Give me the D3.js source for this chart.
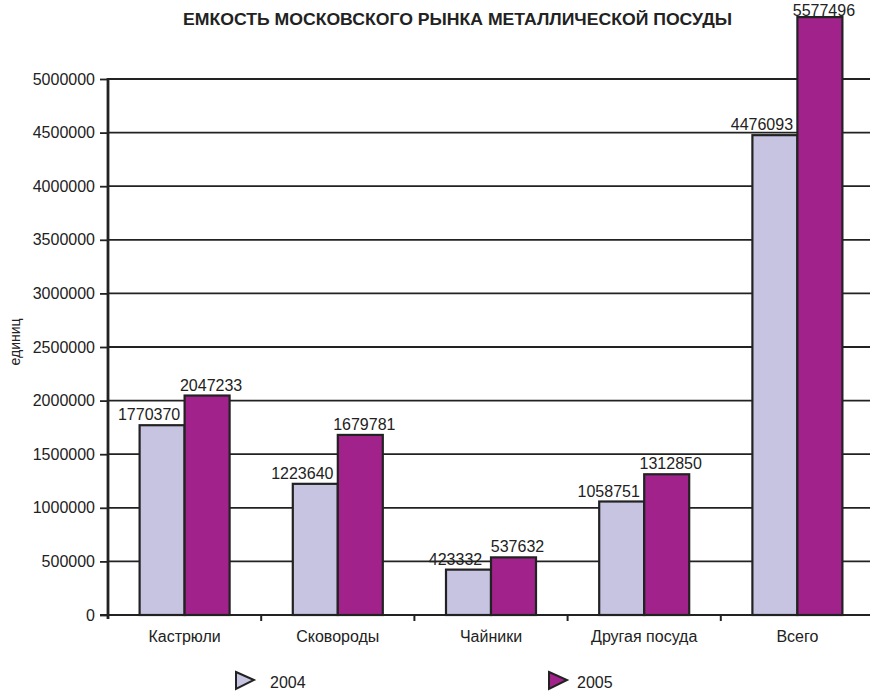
<!DOCTYPE html>
<html>
<head>
<meta charset="utf-8">
<script src="https://cdn.jsdelivr.net/npm/d3@7"></script>
<style>
  html, body { margin: 0; padding: 0; background: #fff; }
  svg { display: block; font-family: "Liberation Sans", Arial, sans-serif; }
</style>
</head>
<body>
<svg id="chart" width="870" height="693"></svg>
<script>
// Market capacity data (units)
const categories = ["Кастрюли", "Сковороды", "Чайники", "Другая посуда", "Всего"];
const years = ["2004", "2005"];
const values2004 = [1770370, 1223640, 423332, 1058751, 4476093];
const values2005 = [2047233, 1679781, 537632, 1312850, 5577496];
const yTicks = [0, 500000, 1000000, 1500000, 2000000, 2500000, 3000000, 3500000, 4000000, 4500000, 5000000];
const titleText = "ЕМКОСТЬ МОСКОВСКОГО РЫНКА МЕТАЛЛИЧЕСКОЙ ПОСУДЫ";
const yAxisTitle = "единиц";

const colors = { "2004": "#c6c4e1", "2005": "#a2228b" };
const ink = "#222";

const svg = d3.select("#chart");
const plotLeft = 108, plotRight = 874, plotTop = 79, plotBottom = 615;

const y = d3.scaleLinear().domain([0, 5000000]).range([plotBottom, plotTop]);
const x = d3.scaleBand().domain(categories).range([plotLeft, plotRight]).padding(0);
const groupW = 90;
const xs = d3.scaleBand().domain(years).range([-groupW / 2, groupW / 2]).padding(0);

const rows = categories.map((c, i) => ({ cat: c, vals: [
  { year: "2004", v: values2004[i] },
  { year: "2005", v: values2005[i] }
]}));

// Title
svg.append("text")
  .attr("x", 183).attr("y", 25)
  .attr("font-size", 17).attr("font-weight", "bold").attr("fill", ink)
  .attr("textLength", 549).attr("lengthAdjust", "spacingAndGlyphs")
  .text(titleText);

// Horizontal gridlines
svg.append("g").selectAll("line").data(yTicks).join("line")
  .attr("x1", plotLeft).attr("x2", 870)
  .attr("y1", d => y(d)).attr("y2", d => y(d))
  .attr("stroke", ink).attr("stroke-width", 1.8);

// Y axis (ticks to the left, labels right-aligned)
const yAxis = d3.axisLeft(y).tickValues(yTicks).tickSize(8).tickPadding(5).tickFormat(d3.format("d"));
const gy = svg.append("g").attr("transform", `translate(${plotLeft},0)`).call(yAxis);
gy.select(".domain").remove();
gy.selectAll(".tick line").attr("stroke", ink).attr("stroke-width", 1.8);
gy.selectAll(".tick text").attr("font-size", 16).attr("fill", ink)
  .attr("font-family", "'Liberation Sans', Arial, sans-serif");

// Bars
const groups = svg.append("g").selectAll("g").data(rows).join("g")
  .attr("transform", d => `translate(${x(d.cat) + x.bandwidth() / 2},0)`);

groups.selectAll("rect").data(d => d.vals).join("rect")
  .attr("x", d => xs(d.year))
  .attr("width", xs.bandwidth())
  .attr("y", d => y(d.v))
  .attr("height", d => y(0) - y(d.v))
  .attr("fill", d => colors[d.year])
  .attr("stroke", ink).attr("stroke-width", 2.2);

// Value labels above bars (kept inside the canvas for the tallest bar)
const labelShift = { "2004": -13, "2005": 4 };
groups.selectAll("text.val").data(d => d.vals).join("text")
  .attr("class", "val")
  .attr("x", d => xs(d.year) + xs.bandwidth() / 2 + labelShift[d.year])
  .attr("y", d => Math.max(y(d.v) - 5, 16))
  .attr("text-anchor", "middle")
  .attr("font-size", 16).attr("fill", ink)
  .text(d => d.v);

// Category labels
const xAxis = d3.axisBottom(x).tickSize(0).tickPadding(16);
const gx = svg.append("g").attr("transform", `translate(0,${plotBottom})`).call(xAxis);
gx.select(".domain").remove();
gx.selectAll(".tick text").attr("font-size", 16).attr("fill", ink)
  .attr("font-family", "'Liberation Sans', Arial, sans-serif");

// Baseline with category separators
svg.append("line")
  .attr("x1", plotLeft - 8).attr("x2", 870).attr("y1", y(0)).attr("y2", y(0))
  .attr("stroke", ink).attr("stroke-width", 2);
svg.append("g").selectAll("line").data(categories.slice(1)).join("line")
  .attr("x1", d => x(d)).attr("x2", d => x(d))
  .attr("y1", y(0)).attr("y2", y(0) + 6)
  .attr("stroke", ink).attr("stroke-width", 2);

// Vertical axis line
svg.append("line")
  .attr("x1", plotLeft).attr("x2", plotLeft).attr("y1", plotTop - 1).attr("y2", plotBottom + 4)
  .attr("stroke", ink).attr("stroke-width", 2.8);

// Y axis title
svg.append("text")
  .attr("transform", "translate(20,342) rotate(-90)")
  .attr("text-anchor", "middle").attr("font-size", 14).attr("fill", ink)
  .text(yAxisTitle);

// Legend
const legendX = { "2004": 236, "2005": 549 };
const legendLabelX = { "2004": 270, "2005": 577 };
const lg = svg.append("g").selectAll("g").data(years).join("g");
lg.append("path")
  .attr("d", d => `M${legendX[d]},672 L${legendX[d] + 18},680 L${legendX[d]},689 Z`)
  .attr("fill", d => colors[d]).attr("stroke", ink).attr("stroke-width", 2).attr("stroke-linejoin", "miter");
lg.append("text")
  .attr("x", d => legendLabelX[d]).attr("y", 688)
  .attr("font-size", 16).attr("fill", ink)
  .text(d => d);
</script>
</body>
</html>
